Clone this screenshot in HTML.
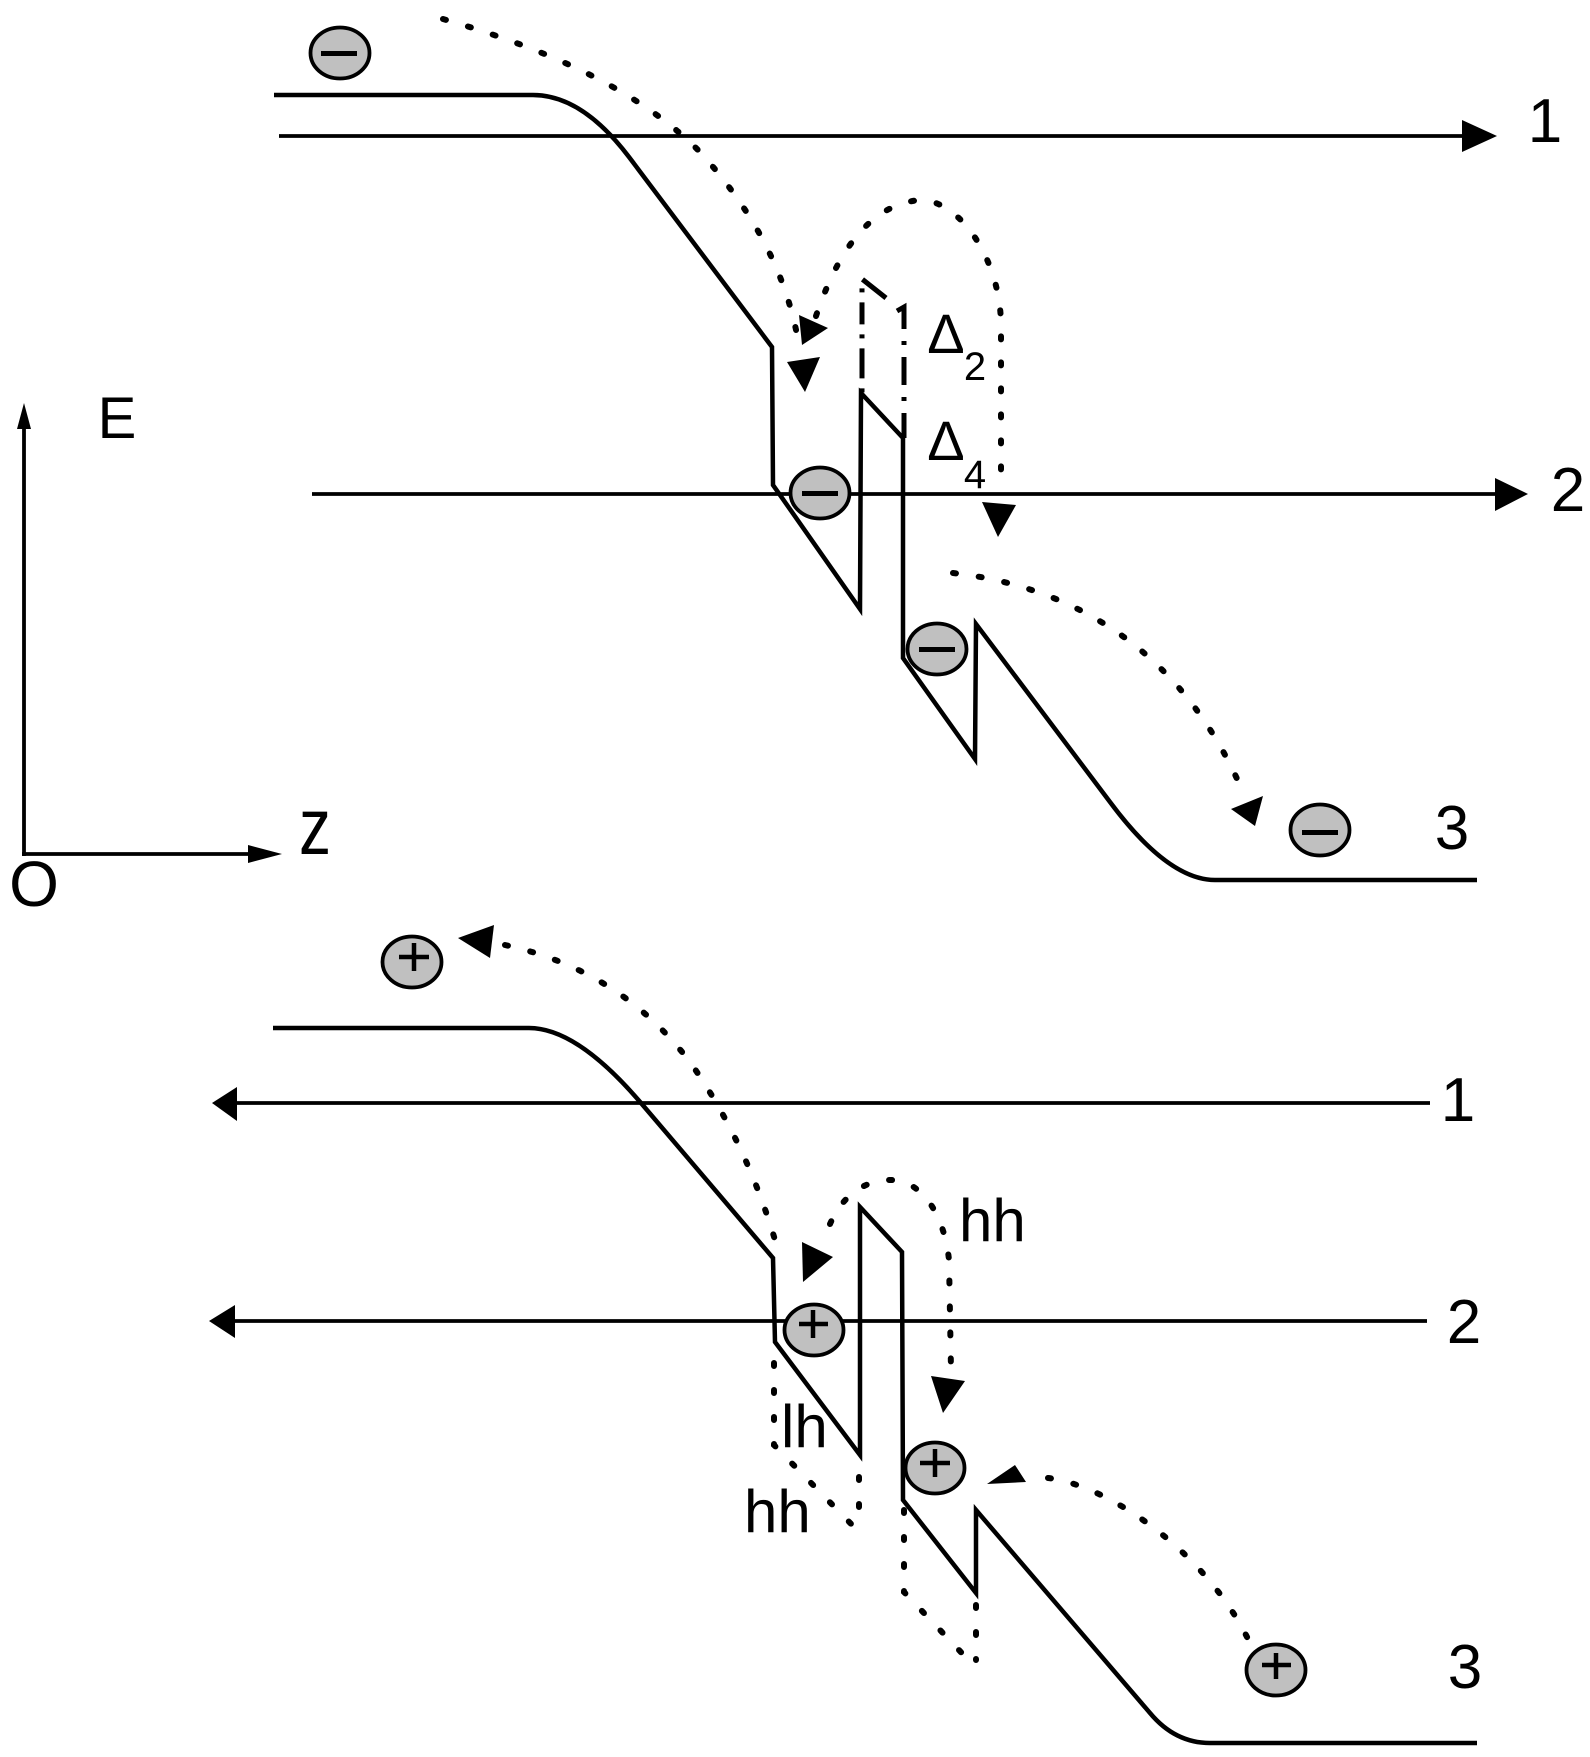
<!DOCTYPE html>
<html>
<head>
<meta charset="utf-8">
<style>
  html,body{margin:0;padding:0;background:#fff;}
  svg{display:block;}
  text{font-family:"Liberation Sans", Arial, sans-serif;fill:#000;}
</style>
</head>
<body>
<svg width="1590" height="1757" viewBox="0 0 1590 1757" xmlns="http://www.w3.org/2000/svg">
  <rect width="1590" height="1757" fill="#fff"/>

  <!-- ============ AXES ============ -->
  <g stroke="#000" stroke-width="3.8" fill="none">
    <line x1="24" y1="426" x2="24" y2="856"/>
    <line x1="22" y1="854" x2="250" y2="854"/>
  </g>
  <polygon points="24,403 17,429 31,429" fill="#000"/>
  <polygon points="282,854 248,845 248,863" fill="#000"/>
  <text x="117" y="438" font-size="58" text-anchor="middle">E</text>
  <text x="315" y="854" font-size="80" text-anchor="middle" textLength="32" lengthAdjust="spacingAndGlyphs">z</text>
  <text x="34" y="906" font-size="64" text-anchor="middle">O</text>

  <!-- ============ ELECTRON DIAGRAM ============ -->
  <path d="M274,95 L533,95 Q582,95 629,157 L772,347 L773,485 L860,609 L861,393 L903,438 L903,658 L975,759 L976,624 L1110,802 Q1168,880 1215,880 L1477,880"
        fill="none" stroke="#000" stroke-width="4.5" stroke-linejoin="miter"/>

  <line x1="279" y1="136" x2="1465" y2="136" stroke="#000" stroke-width="3.8"/>
  <polygon points="1462,120 1497,136 1462,152" fill="#000"/>
  <text x="1545" y="142" font-size="62" text-anchor="middle">1</text>

  <line x1="312" y1="494" x2="1498" y2="494" stroke="#000" stroke-width="3.8"/>
  <polygon points="1495,478 1528,494 1495,511" fill="#000"/>
  <text x="1568" y="511" font-size="62" text-anchor="middle">2</text>

  <text x="1452" y="849" font-size="62" text-anchor="middle">3</text>

  <!-- dash-dot Δ2 lines -->
  <path d="M886,298 L862,279 L862,393" fill="none" stroke="#000" stroke-width="5" stroke-dasharray="30 10 4 10 22 10 4 10"/>
  <path d="M897,311 L904,307 L904,438" fill="none" stroke="#000" stroke-width="5" stroke-dasharray="30 12 4 12 28 12 4 12"/>

  <text x="946" y="353" font-size="56" text-anchor="middle">Δ</text>
  <text x="975" y="380" font-size="40" text-anchor="middle">2</text>
  <text x="946" y="460" font-size="56" text-anchor="middle">Δ</text>
  <text x="975" y="488" font-size="40" text-anchor="middle">4</text>

  <g fill="none" stroke="#000" stroke-width="6" stroke-linecap="round" stroke-dasharray="3 23">
    <path d="M443,19 Q620,70 700,152 Q780,240 798,340"/>
    <path d="M816,316 C835,260 865,205 920,200 C960,200 1001,260 1001,326 L1001,490"/>
    <path d="M953,573 C1060,585 1180,640 1245,797"/>
  </g>
  <g fill="#000">
    <polygon points="787,362 820,357 805,392"/>
    <polygon points="799,315 828,328 802,345"/>
    <polygon points="982,502 1016,505 998,537"/>
    <polygon points="1263,796 1255,826 1231,809"/>
  </g>

  <g fill="#c0c0c0" stroke="#000" stroke-width="3.8">
    <ellipse cx="340" cy="53" rx="29.5" ry="25.5"/>
    <ellipse cx="820" cy="493" rx="29.5" ry="25.5"/>
    <ellipse cx="937" cy="649" rx="29.5" ry="25.5"/>
    <ellipse cx="1320" cy="830" rx="29.5" ry="25.5"/>
  </g>
  <g fill="#000">
    <rect x="321" y="51" width="36" height="5"/>
    <rect x="802" y="491" width="36" height="5"/>
    <rect x="919" y="647" width="36" height="5"/>
    <rect x="1302" y="830" width="36" height="5"/>
  </g>

  <!-- ============ HOLE DIAGRAM ============ -->
  <path d="M273,1028 L529,1028 Q577,1028 641,1103 L773,1258 L775,1342 L860,1455 L860,1207 L902,1252 L903,1500 L976,1593 L976,1510 L1150,1713 Q1175,1743 1210,1743 L1477,1743"
        fill="none" stroke="#000" stroke-width="4.5" stroke-linejoin="miter"/>

  <line x1="234" y1="1103" x2="1430" y2="1103" stroke="#000" stroke-width="3.8"/>
  <polygon points="212,1103 237,1087 237,1121" fill="#000"/>
  <text x="1458" y="1121" font-size="62" text-anchor="middle">1</text>

  <line x1="232" y1="1321" x2="1427" y2="1321" stroke="#000" stroke-width="3.8"/>
  <polygon points="209,1321 235,1305 235,1338" fill="#000"/>
  <text x="1464" y="1343" font-size="62" text-anchor="middle">2</text>

  <text x="1465" y="1688" font-size="62" text-anchor="middle">3</text>

  <text x="959" y="1241" font-size="60">hh</text>
  <text x="781" y="1447" font-size="60">lh</text>
  <text x="744" y="1532" font-size="60">hh</text>

  <g fill="none" stroke="#000" stroke-width="6" stroke-linecap="round" stroke-dasharray="3 24">
    <path d="M774,1363 L774,1445 L859,1532"/>
    <path d="M859,1477 L859,1530"/>
    <path d="M904,1510 L904,1592 L976,1668"/>
    <path d="M976,1605 L976,1660"/>
  </g>

  <g fill="none" stroke="#000" stroke-width="6" stroke-linecap="round" stroke-dasharray="3 23">
    <path d="M505,945 Q620,970 690,1062 Q745,1140 775,1240"/>
    <path d="M830,1224 C845,1190 870,1180 890,1180 C925,1180 945,1220 949,1260 L951,1370"/>
    <path d="M1048,1478 C1110,1485 1220,1560 1258,1662"/>
  </g>
  <g fill="#000">
    <polygon points="458,938 494,925 490,958"/>
    <polygon points="802,1242 833,1257 803,1282"/>
    <polygon points="931,1376 965,1381 943,1413"/>
    <polygon points="987,1484 1015,1465 1026,1482"/>
  </g>

  <g fill="#c0c0c0" stroke="#000" stroke-width="3.8">
    <ellipse cx="412" cy="962" rx="29.5" ry="25.5"/>
    <ellipse cx="814" cy="1330" rx="29.5" ry="25.5"/>
    <ellipse cx="935" cy="1468" rx="29.5" ry="25.5"/>
    <ellipse cx="1276" cy="1670" rx="29.5" ry="25.5"/>
  </g>
  <g stroke="#000" stroke-width="4.5" fill="none">
    <path d="M399,957 L429,957 M414,943 L414,971"/>
    <path d="M799,1324 L828,1324 M813,1310 L813,1338"/>
    <path d="M920,1463 L950,1463 M935,1449 L935,1477"/>
    <path d="M1262,1665 L1291,1665 M1276,1653 L1276,1679"/>
  </g>
</svg>
</body>
</html>
